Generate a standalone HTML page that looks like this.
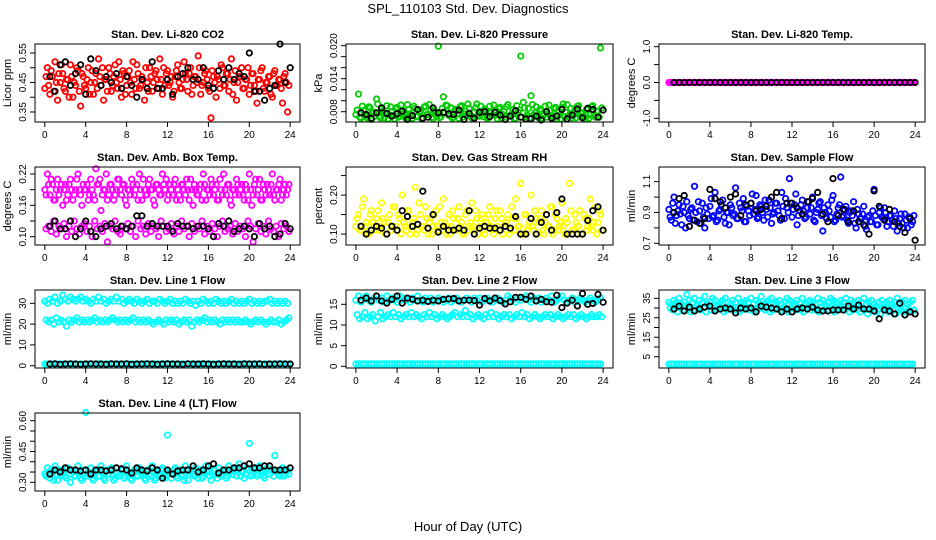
<!DOCTYPE html>
<html><head><meta charset="utf-8"><style>
body{margin:0;background:#fff;}
svg{display:block;font-family:"Liberation Sans",sans-serif;}
</style></head><body>
<svg id="c" width="936" height="540" viewBox="0 0 936 540">
<text x="468" y="13" text-anchor="middle" font-size="13">SPL_110103  Std. Dev. Diagnostics</text>
<text x="468" y="531" text-anchor="middle" font-size="13">Hour of Day (UTC)</text>
</svg>
<script>
const hours=[0,0.25,0.5,0.75,1,1.25,1.5,1.75,2,2.25,2.5,2.75,3,3.25,3.5,3.75,4,4.25,4.5,4.75,5,5.25,5.5,5.75,6,6.25,6.5,6.75,7,7.25,7.5,7.75,8,8.25,8.5,8.75,9,9.25,9.5,9.75,10,10.25,10.5,10.75,11,11.25,11.5,11.75,12,12.25,12.5,12.75,13,13.25,13.5,13.75,14,14.25,14.5,14.75,15,15.25,15.5,15.75,16,16.25,16.5,16.75,17,17.25,17.5,17.75,18,18.25,18.5,18.75,19,19.25,19.5,19.75,20,20.25,20.5,20.75,21,21.25,21.5,21.75,22,22.25,22.5,22.75,23,23.25,23.5,23.75];
const hoursB=[0.125,0.375,0.625,0.875,1.125,1.375,1.625,1.875,2.125,2.375,2.625,2.875,3.125,3.375,3.625,3.875,4.125,4.375,4.625,4.875,5.125,5.375,5.625,5.875,6.125,6.375,6.625,6.875,7.125,7.375,7.625,7.875,8.125,8.375,8.625,8.875,9.125,9.375,9.625,9.875,10.125,10.375,10.625,10.875,11.125,11.375,11.625,11.875,12.125,12.375,12.625,12.875,13.125,13.375,13.625,13.875,14.125,14.375,14.625,14.875,15.125,15.375,15.625,15.875,16.125,16.375,16.625,16.875,17.125,17.375,17.625,17.875,18.125,18.375,18.625,18.875,19.125,19.375,19.625,19.875,20.125,20.375,20.625,20.875,21.125,21.375,21.625,21.875,22.125,22.375,22.625,22.875,23.125,23.375,23.625,23.875];
const blackHours=[0.5,1,1.5,2,2.5,3,3.5,4,4.5,5,5.5,6,6.5,7,7.5,8,8.5,9,9.5,10,10.5,11,11.5,12,12.5,13,13.5,14,14.5,15,15.5,16,16.5,17,17.5,18,18.5,19,19.5,20,20.5,21,21.5,22,22.5,23,23.5,24];
const xTicks=[0,4,8,12,16,20,24];

const co2A=[0.43,0.50,0.41,0.47,0.52,0.39,0.45,0.48,0.42,0.46,0.51,0.40,0.44,0.49,0.37,0.47,0.43,0.50,0.45,0.41,0.48,0.53,0.44,0.39,0.46,0.50,0.42,0.47,0.45,0.52,0.40,0.48,0.44,0.49,0.41,0.46,0.51,0.43,0.47,0.39,0.45,0.50,0.42,0.48,0.46,0.53,0.41,0.44,0.49,0.45,0.40,0.47,0.51,0.43,0.46,0.48,0.42,0.50,0.44,0.47,0.54,0.41,0.45,0.49,0.43,0.33,0.47,0.40,0.46,0.51,0.44,0.48,0.42,0.53,0.45,0.39,0.47,0.50,0.43,0.46,0.41,0.48,0.44,0.38,0.46,0.50,0.42,0.45,0.47,0.40,0.49,0.44,0.46,0.38,0.48,0.35];
const co2B=[0.47,0.44,0.49,0.42,0.45,0.48,0.51,0.43,0.46,0.40,0.47,0.45,0.50,0.42,0.48,0.44,0.46,0.41,0.49,0.45,0.43,0.47,0.50,0.46,0.42,0.48,0.44,0.51,0.43,0.46,0.49,0.41,0.47,0.45,0.52,0.43,0.48,0.44,0.46,0.50,0.42,0.47,0.45,0.49,0.43,0.46,0.50,0.48,0.44,0.47,0.42,0.49,0.45,0.43,0.52,0.46,0.48,0.41,0.47,0.45,0.50,0.44,0.48,0.46,0.42,0.49,0.45,0.47,0.43,0.50,0.44,0.48,0.46,0.41,0.49,0.45,0.47,0.43,0.46,0.50,0.44,0.48,0.42,0.46,0.49,0.43,0.45,0.47,0.41,0.48,0.44,0.46,0.43,0.47,0.45,0.44];
const co2Black=[0.47,0.42,0.51,0.52,0.44,0.48,0.51,0.41,0.53,0.49,0.44,0.47,0.45,0.48,0.43,0.47,0.44,0.40,0.46,0.43,0.52,0.43,0.43,0.46,0.41,0.47,0.48,0.50,0.46,0.46,0.50,0.44,0.43,0.49,0.46,0.50,0.46,0.48,0.47,0.55,0.42,0.42,0.39,0.43,0.44,0.58,0.45,0.50];

const presA=[0.0075,0.0112,0.0068,0.0082,0.0071,0.0089,0.0066,0.0079,0.0103,0.0072,0.0085,0.0069,0.0091,0.0074,0.0080,0.0067,0.0088,0.0073,0.0083,0.0070,0.0093,0.0076,0.0068,0.0086,0.0072,0.0081,0.0069,0.0090,0.0075,0.0084,0.0067,0.0078,0.0199,0.0071,0.0107,0.0092,0.0074,0.0087,0.0070,0.0082,0.0068,0.0091,0.0076,0.0073,0.0086,0.0069,0.0080,0.0094,0.0072,0.0077,0.0085,0.0068,0.0090,0.0074,0.0081,0.0067,0.0088,0.0075,0.0070,0.0093,0.0073,0.0084,0.0068,0.0079,0.0181,0.0097,0.0071,0.0086,0.0109,0.0074,0.0089,0.0069,0.0082,0.0076,0.0070,0.0092,0.0073,0.0085,0.0067,0.0080,0.0088,0.0071,0.0093,0.0075,0.0069,0.0083,0.0090,0.0072,0.0078,0.0067,0.0086,0.0074,0.0091,0.0070,0.0081,0.0196];
const presB=[0.0083,0.0070,0.0090,0.0074,0.0068,0.0087,0.0079,0.0072,0.0094,0.0069,0.0081,0.0076,0.0067,0.0089,0.0073,0.0085,0.0070,0.0092,0.0077,0.0068,0.0084,0.0074,0.0090,0.0071,0.0080,0.0067,0.0088,0.0075,0.0093,0.0070,0.0082,0.0073,0.0069,0.0086,0.0078,0.0091,0.0072,0.0068,0.0084,0.0076,0.0089,0.0070,0.0081,0.0094,0.0073,0.0067,0.0087,0.0075,0.0090,0.0071,0.0083,0.0069,0.0078,0.0092,0.0074,0.0086,0.0068,0.0080,0.0089,0.0072,0.0076,0.0067,0.0091,0.0083,0.0070,0.0087,0.0074,0.0069,0.0093,0.0078,0.0072,0.0085,0.0068,0.0090,0.0076,0.0082,0.0070,0.0088,0.0073,0.0067,0.0094,0.0079,0.0071,0.0086,0.0075,0.0069,0.0091,0.0077,0.0072,0.0084,0.0068,0.0089,0.0074,0.0081,0.0070,0.0087];
const presBlack=[0.0078,0.0075,0.0068,0.0078,0.0087,0.0077,0.0072,0.0076,0.0081,0.0066,0.0073,0.0084,0.0068,0.0070,0.0087,0.0078,0.0079,0.0076,0.0075,0.0083,0.0066,0.0077,0.0068,0.0079,0.0080,0.0071,0.0079,0.0074,0.0066,0.0072,0.0082,0.0070,0.0067,0.0067,0.0072,0.0065,0.0080,0.0068,0.0072,0.0084,0.0067,0.0074,0.0085,0.0069,0.0086,0.0084,0.0070,0.0083];

const tempA=[0,0,0,0,0,0,0,0,0,0,0,0,0,0,0,0,0,0,0,0,0,0,0,0,0,0,0,0,0,0,0,0,0,0,0,0,0,0,0,0,0,0,0,0,0,0,0,0,0,0,0,0,0,0,0,0,0,0,0,0,0,0,0,0,0,0,0,0,0,0,0,0,0,0,0,0,0,0,0,0,0,0,0,0,0,0,0,0,0,0,0,0,0,0,0,0];
const tempBlack=[0,0,0,0,0,0,0,0,0,0,0,0,0,0,0,0,0,0,0,0,0,0,0,0,0,0,0,0,0,0,0,0,0,0,0,0,0,0,0,0,0,0,0,0,0,0,0,0];

const ambA=[0.19,0.22,0.18,0.20,0.17,0.21,0.19,0.16,0.20,0.18,0.21,0.17,0.19,0.22,0.18,0.20,0.19,0.17,0.21,0.18,0.23,0.20,0.15,0.19,0.22,0.18,0.20,0.17,0.19,0.21,0.18,0.20,0.16,0.19,0.21,0.18,0.20,0.22,0.17,0.19,0.18,0.21,0.19,0.16,0.20,0.18,0.22,0.19,0.17,0.20,0.18,0.21,0.19,0.17,0.20,0.18,0.19,0.21,0.16,0.19,0.18,0.20,0.22,0.17,0.19,0.21,0.18,0.20,0.17,0.19,0.22,0.18,0.20,0.16,0.19,0.21,0.18,0.20,0.17,0.19,0.22,0.16,0.20,0.18,0.21,0.17,0.19,0.20,0.18,0.22,0.17,0.19,0.21,0.18,0.20,0.19];
const ambB=[0.115,0.12,0.11,0.13,0.105,0.12,0.115,0.125,0.10,0.12,0.11,0.13,0.115,0.105,0.12,0.125,0.11,0.12,0.10,0.13,0.115,0.12,0.11,0.125,0.09,0.12,0.115,0.13,0.11,0.105,0.12,0.115,0.125,0.11,0.12,0.10,0.13,0.115,0.12,0.105,0.125,0.11,0.12,0.115,0.10,0.13,0.12,0.11,0.115,0.125,0.105,0.12,0.11,0.13,0.115,0.12,0.10,0.125,0.11,0.12,0.115,0.13,0.105,0.12,0.11,0.125,0.115,0.10,0.12,0.13,0.11,0.115,0.12,0.105,0.125,0.11,0.12,0.115,0.10,0.13,0.12,0.09,0.115,0.125,0.11,0.12,0.105,0.13,0.115,0.11,0.12,0.10,0.125,0.115,0.12,0.11];
const ambC=[0.18,0.20,0.21,0.17,0.19,0.18,0.20,0.19,0.17,0.20,0.19,0.18,0.21,0.19,0.16,0.19,0.20,0.18,0.19,0.17,0.20,0.21,0.18,0.19,0.17,0.20,0.19,0.18,0.21,0.19,0.20,0.17,0.19,0.18,0.20,0.19,0.17,0.19,0.21,0.18,0.20,0.19,0.17,0.20,0.19,0.18,0.20,0.21,0.18,0.19,0.20,0.17,0.18,0.20,0.19,0.21,0.17,0.19,0.20,0.18,0.19,0.17,0.20,0.19,0.18,0.20,0.19,0.17,0.21,0.18,0.19,0.20,0.17,0.19,0.18,0.20,0.19,0.18,0.20,0.17,0.19,0.18,0.21,0.19,0.17,0.20,0.18,0.19,0.20,0.18,0.19,0.20,0.17,0.19,0.18,0.20];
const ambBlack=[0.12,0.13,0.115,0.115,0.13,0.10,0.115,0.13,0.11,0.10,0.115,0.12,0.125,0.115,0.12,0.115,0.12,0.14,0.14,0.12,0.125,0.12,0.12,0.12,0.11,0.125,0.12,0.12,0.115,0.12,0.12,0.115,0.10,0.125,0.12,0.13,0.11,0.115,0.12,0.115,0.10,0.125,0.115,0.12,0.10,0.105,0.125,0.115];

const rhA=[0.12,0.15,0.11,0.19,0.13,0.10,0.16,0.12,0.14,0.11,0.18,0.13,0.10,0.15,0.12,0.17,0.11,0.14,0.20,0.12,0.16,0.10,0.13,0.22,0.11,0.15,0.12,0.17,0.10,0.14,0.12,0.16,0.11,0.13,0.19,0.10,0.15,0.12,0.14,0.11,0.17,0.13,0.10,0.16,0.12,0.18,0.11,0.14,0.12,0.15,0.10,0.13,0.17,0.11,0.14,0.12,0.16,0.10,0.13,0.15,0.11,0.14,0.19,0.12,0.23,0.10,0.15,0.12,0.20,0.11,0.14,0.13,0.16,0.10,0.15,0.12,0.17,0.11,0.14,0.12,0.18,0.10,0.13,0.23,0.11,0.15,0.12,0.16,0.10,0.14,0.12,0.19,0.11,0.17,0.13,0.15];
const rhB=[0.14,0.11,0.17,0.12,0.10,0.15,0.13,0.11,0.16,0.12,0.14,0.10,0.13,0.11,0.17,0.12,0.15,0.10,0.13,0.11,0.16,0.12,0.14,0.10,0.18,0.12,0.11,0.14,0.13,0.10,0.15,0.12,0.17,0.11,0.13,0.12,0.10,0.16,0.11,0.14,0.12,0.10,0.15,0.11,0.13,0.12,0.16,0.10,0.14,0.11,0.13,0.15,0.12,0.10,0.16,0.11,0.14,0.12,0.13,0.10,0.17,0.11,0.14,0.12,0.10,0.15,0.11,0.13,0.12,0.16,0.10,0.14,0.11,0.13,0.12,0.17,0.10,0.15,0.11,0.13,0.12,0.14,0.10,0.16,0.11,0.13,0.12,0.10,0.15,0.11,0.14,0.12,0.13,0.10,0.16,0.11];
const rhBlack=[0.12,0.10,0.11,0.12,0.115,0.10,0.12,0.11,0.16,0.145,0.12,0.125,0.21,0.115,0.15,0.105,0.12,0.11,0.11,0.115,0.11,0.16,0.10,0.115,0.12,0.115,0.115,0.11,0.12,0.115,0.145,0.10,0.10,0.14,0.10,0.13,0.15,0.11,0.155,0.19,0.10,0.10,0.10,0.10,0.135,0.16,0.17,0.11];

const flowA=[0.92,0.85,1.00,0.88,0.95,0.82,0.90,0.97,0.86,0.93,1.07,0.84,0.91,0.96,0.80,0.89,0.94,0.87,1.03,0.85,0.92,0.98,0.83,0.90,0.95,0.88,1.06,0.86,0.93,0.99,0.84,0.91,0.96,0.89,1.01,0.87,0.94,0.85,0.92,0.98,0.83,0.90,0.96,0.88,1.03,0.86,0.93,1.12,0.87,0.95,0.82,0.91,0.98,0.86,0.93,0.89,1.00,0.84,0.92,0.97,0.78,0.90,0.95,0.87,1.01,0.85,0.93,1.13,0.88,0.94,0.83,0.91,0.97,0.80,0.89,0.86,0.94,0.79,0.88,0.84,1.05,0.82,0.90,0.87,0.93,0.81,0.88,0.85,0.91,0.78,0.86,0.83,0.89,0.80,0.87,0.84];
const flowB=[0.87,0.96,0.83,0.91,0.89,0.94,0.80,0.88,0.92,0.85,0.90,0.97,0.83,0.87,0.93,0.86,0.99,0.88,0.84,0.91,0.95,0.87,0.90,0.82,0.93,0.89,0.86,0.96,0.91,0.84,0.94,0.88,1.02,0.92,0.86,0.95,0.90,0.98,0.87,0.93,0.89,0.96,0.91,0.85,0.94,0.99,0.90,0.96,0.92,1.02,0.88,0.95,0.91,0.87,0.97,0.93,0.85,0.90,0.96,0.88,0.93,0.86,0.91,0.98,0.84,0.89,0.95,0.87,0.92,0.85,0.90,0.88,0.83,0.92,0.86,0.89,0.81,0.87,0.84,0.91,0.88,0.82,0.93,0.86,0.90,0.84,0.88,0.81,0.86,0.83,0.89,0.80,0.85,0.87,0.82,0.88];
const flowBlack=[0.90,0.99,1.01,0.81,0.85,0.83,0.86,1.05,0.99,0.97,0.93,1.00,1.02,0.88,0.95,0.96,0.91,0.92,0.94,1.00,1.03,0.86,0.96,0.96,0.93,0.89,0.97,0.99,1.03,0.89,0.84,1.12,0.88,0.92,0.84,0.91,0.84,0.82,0.76,1.04,0.94,0.85,0.92,0.84,0.81,0.77,0.86,0.72];

const l1A=[31,30,32,31,33,30,31,34,32,31,33,32,31,32,33,31,32,31,30,32,31,33,31,32,30,31,32,31,33,31,32,30,31,32,31,30,32,31,30,31,32,30,31,31,30,32,31,30,31,32,30,31,30,31,30,32,31,30,31,29,31,30,32,31,30,31,30,32,31,30,31,30,31,32,30,31,30,31,30,31,32,30,31,30,31,30,31,31,32,30,31,30,31,30,31,30];
const l1B=[22,21,22,20,23,21,22,21,19,22,21,22,23,21,22,21,22,21,22,23,21,22,21,22,21,22,23,22,21,22,21,22,21,22,23,21,22,21,22,21,22,21,20,21,22,21,20,22,21,22,21,22,20,21,22,21,22,19,21,22,21,22,23,21,22,21,22,21,20,22,21,22,21,22,21,22,21,21,22,21,20,21,22,21,22,21,20,21,22,21,21,22,20,21,22,23];
const l1C=[0.8,0.8,0.8,0.8,0.8,0.8,0.8,0.8,0.8,0.8,0.8,0.8,0.8,0.8,0.8,0.8,0.8,0.8,0.8,0.8,0.8,0.8,0.8,0.8,0.8,0.8,0.8,0.8,0.8,0.8,0.8,0.8,0.8,0.8,0.8,0.8,0.8,0.8,0.8,0.8,0.8,0.8,0.8,0.8,0.8,0.8,0.8,0.8,0.8,0.8,0.8,0.8,0.8,0.8,0.8,0.8,0.8,0.8,0.8,0.8,0.8,0.8,0.8,0.8,0.8,0.8,0.8,0.8,0.8,0.8,0.8,0.8,0.8,0.8,0.8,0.8,0.8,0.8,0.8,0.8,0.8,0.8,0.8,0.8,0.8,0.8,0.8,0.8,0.8,0.8,0.8,0.8,0.8,0.8,0.8,0.8];
const l1Black=[0.8,0.9,0.7,0.8,0.9,0.8,0.7,0.8,0.9,0.8,0.8,0.7,0.9,0.8,0.8,0.9,0.7,0.8,0.8,0.9,0.8,0.7,0.8,0.9,0.8,0.8,0.7,0.9,0.8,0.8,0.9,0.8,0.7,0.8,0.9,0.8,0.8,0.7,0.9,0.8,0.8,0.9,0.7,0.8,0.8,0.9,0.8,0.8];

const l2A=[16,17,15.5,16.5,17,16,15.5,16.5,17,16,16.5,15.5,17,16,16.5,16,15.5,17,16,16.5,16,15.5,16.5,16,17,16,15.5,16.5,16,16.5,15.5,16,16.5,16,15.5,16,16.5,15.5,16,16.5,16,15.5,16,16.5,16,15.5,16.5,16,16.5,15.5,16,16.5,16,15.5,16,16.5,16,15.5,16,17,16.5,16,15.5,16.5,16,16.5,17,16,15.5,16.5,16,16.5,15.5,16,16.5,16,17,15.5,16,16.5,17,16,15.5,16,16.5,15.5,16,16.5,16,15.5,16,16.5,16,15.5,16,16.5];
const l2B=[12.5,11.5,12,13,11.5,12,12.5,11,12,13,11.5,12,12.5,12,13,12,12.5,11.5,12,12.5,12,13,12,12.5,12,11.5,12.5,12,13,12,12.5,11.5,12,12.5,12,11.5,12,12.5,13,12,12.5,12,13.5,12,12.5,11.5,12,12.5,12,11.5,12.5,12,13,12,12.5,11.5,12,12.5,12,12.5,11.5,12,12.5,12,13,12,12.5,11.5,12,12.5,12,11.5,12,12.5,12,12.5,11.5,12,12.5,12,11.5,12,12.5,12,12.5,11.5,12,12.5,12,11.5,12,12.5,12,12,12.5,12];
const l2C=[0.6,0.6,0.6,0.6,0.6,0.6,0.6,0.6,0.6,0.6,0.6,0.6,0.6,0.6,0.6,0.6,0.6,0.6,0.6,0.6,0.6,0.6,0.6,0.6,0.6,0.6,0.6,0.6,0.6,0.6,0.6,0.6,0.6,0.6,0.6,0.6,0.6,0.6,0.6,0.6,0.6,0.6,0.6,0.6,0.6,0.6,0.6,0.6,0.6,0.6,0.6,0.6,0.6,0.6,0.6,0.6,0.6,0.6,0.6,0.6,0.6,0.6,0.6,0.6,0.6,0.6,0.6,0.6,0.6,0.6,0.6,0.6,0.6,0.6,0.6,0.6,0.6,0.6,0.6,0.6,0.6,0.6,0.6,0.6,0.6,0.6,0.6,0.6,0.6,0.6,0.6,0.6,0.6,0.6,0.6,0.6];
const l2Black=[16,16.5,15.8,17,15.8,15.3,16.2,17,15.3,16.5,16.2,15.8,16,15.7,16,15.8,16.2,16.3,16.4,15.8,16,16,15.9,14.8,16.4,15.8,16.5,15.9,15.1,15.6,16.7,16.7,16.2,17,15.8,16.2,15.6,15.5,17.2,14.2,15.3,16,14.6,17.6,15,15.2,17.4,15.5];

const l3A=[33,32,34,33,35,32,33,37,34,33,35,32,34,33,36,32,33,35,34,32,33,34,35,33,32,34,33,35,32,33,34,33,35,32,34,33,36,32,33,34,35,32,33,34,32,33,35,34,33,32,34,33,35,32,33,34,33,32,35,33,34,32,33,35,34,33,32,34,33,35,32,34,33,32,34,33,35,32,33,34,32,31,33,34,32,33,34,32,33,35,32,33,34,32,33,34];
const l3B=[30,29,31,28,30,29,31,30,28,29,31,30,29,30,28,31,29,30,29,31,30,28,29,30,31,29,30,28,29,31,30,29,30,28,29,31,30,29,30,28,29,31,30,29,30,29,28,30,31,29,30,29,28,30,31,29,30,29,28,30,29,31,29,30,28,29,30,31,29,30,28,29,30,29,28,30,29,27,29,30,28,29,27,30,29,28,30,29,27,30,29,28,30,29,28,29];
const l3C=[1.2,1.2,1.2,1.2,1.2,1.2,1.2,1.2,1.2,1.2,1.2,1.2,1.2,1.2,1.2,1.2,1.2,1.2,1.2,1.2,1.2,1.2,1.2,1.2,1.2,1.2,1.2,1.2,1.2,1.2,1.2,1.2,1.2,1.2,1.2,1.2,1.2,1.2,1.2,1.2,1.2,1.2,1.2,1.2,1.2,1.2,1.2,1.2,1.2,1.2,1.2,1.2,1.2,1.2,1.2,1.2,1.2,1.2,1.2,1.2,1.2,1.2,1.2,1.2,1.2,1.2,1.2,1.2,1.2,1.2,1.2,1.2,1.2,1.2,1.2,1.2,1.2,1.2,1.2,1.2,1.2,1.2,1.2,1.2,1.2,1.2,1.2,1.2,1.2,1.2,1.2,1.2,1.2,1.2,1.2,1.2];
const l3Black=[29.5,31,28.5,30.5,28.5,29.5,30.5,31,28.5,29.5,30,29.5,27.5,30,29.5,30,28,31,30.5,30,29.5,28,29.5,28,29.5,30,29.5,30.5,29,28.5,28.5,29,29,29,31,29.5,31.5,29.5,29.5,28.5,24.5,29,28.5,27,32.5,26.5,28,27];

const l4A=[0.34,0.37,0.32,0.35,0.38,0.31,0.34,0.36,0.33,0.37,0.30,0.35,0.33,0.38,0.32,0.36,0.64,0.34,0.37,0.31,0.35,0.33,0.38,0.32,0.36,0.34,0.37,0.31,0.35,0.33,0.36,0.32,0.38,0.34,0.31,0.36,0.33,0.37,0.35,0.32,0.36,0.34,0.38,0.31,0.35,0.33,0.37,0.32,0.53,0.35,0.34,0.37,0.32,0.36,0.33,0.38,0.31,0.35,0.34,0.37,0.32,0.36,0.33,0.38,0.35,0.31,0.36,0.34,0.37,0.33,0.35,0.32,0.38,0.34,0.36,0.33,0.39,0.35,0.32,0.37,0.49,0.34,0.36,0.33,0.38,0.35,0.32,0.37,0.34,0.36,0.43,0.35,0.33,0.37,0.34,0.36];
const l4B=[0.33,0.35,0.36,0.31,0.34,0.36,0.33,0.35,0.32,0.34,0.36,0.33,0.35,0.34,0.31,0.36,0.33,0.35,0.32,0.34,0.36,0.33,0.35,0.31,0.34,0.36,0.33,0.32,0.35,0.34,0.36,0.33,0.35,0.32,0.34,0.36,0.33,0.35,0.34,0.31,0.36,0.33,0.35,0.32,0.34,0.36,0.33,0.35,0.34,0.32,0.36,0.33,0.35,0.34,0.31,0.36,0.34,0.35,0.33,0.36,0.34,0.32,0.35,0.36,0.33,0.34,0.36,0.32,0.35,0.34,0.36,0.33,0.35,0.34,0.37,0.36,0.33,0.35,0.34,0.36,0.33,0.35,0.37,0.34,0.36,0.33,0.35,0.34,0.36,0.33,0.35,0.34,0.36,0.33,0.35,0.34];
const l4Black=[0.34,0.36,0.35,0.37,0.36,0.36,0.355,0.36,0.34,0.36,0.36,0.355,0.36,0.37,0.365,0.36,0.345,0.37,0.36,0.355,0.37,0.36,0.32,0.36,0.34,0.355,0.36,0.36,0.38,0.35,0.36,0.38,0.39,0.345,0.36,0.36,0.37,0.37,0.38,0.39,0.37,0.37,0.38,0.38,0.36,0.36,0.36,0.37];

const co2Ticks=[0.35,0.40,0.45,0.50,0.55], co2Labels=["0.35","","0.45","","0.55"];
const presTicks=[0.008,0.010,0.012,0.014,0.016,0.018,0.020], presLabels=["0.008","","","0.014","","","0.020"];
const tempTicks=[-1,-0.5,0,0.5,1], tempLabels=["-1.0","","0.0","","1.0"];
const ambTicks=[0.10,0.13,0.16,0.19,0.22], ambLabels=["0.10","","0.16","","0.22"];
const rhTicks=[0.10,0.15,0.20,0.25], rhLabels=["0.10","","0.20",""];
const flowTicks=[0.7,0.8,0.9,1.0,1.1], flowLabels=["0.7","","0.9","","1.1"];
const l1Ticks=[0,10,20,30], l1Labels=["0","10","20","30"];
const l2Ticks=[0,5,10,15], l2Labels=["0","5","10","15"];
const l3Ticks=[5,10,15,20,25,30,35], l3Labels=["5","","15","","25","","35"];
const l4Ticks=[0.30,0.35,0.40,0.45,0.50,0.55,0.60], l4Labels=["0.30","","","0.45","","","0.60"];

const NS="http://www.w3.org/2000/svg";
const svg=document.getElementById('c');
function mk(tag,attrs,parent){const e=document.createElementNS(NS,tag);for(const k in attrs)e.setAttribute(k,attrs[k]);(parent||svg).appendChild(e);return e;}
const colL=[35,346,659], colW=[265,267,266], rowT=[44,167,290,413], H=78;
function panel(col,row,name,title,ylab,ymin,ymax,ticks,labels,series,blackVals){
  const L=colL[col],W=colW[col],T=rowT[row];
  const g=mk('g',{});
  
  
  const xs=v=>L+(v+0.96)/25.92*W;
  const ys=v=>T+H-(v-ymin)/(ymax-ymin)*H;
  const t=mk('text',{x:L+W/2,y:T-6,'text-anchor':'middle','font-size':11,'font-weight':'bold'},g);
  t.textContent=title;
  
  
  const yl=mk('text',{x:0,y:0,'text-anchor':'middle','font-size':11,transform:`translate(${L-24},${T+H/2}) rotate(-90)`},g);
  yl.textContent=ylab;
  
  
  const pts=mk('g',{fill:'none','stroke-width':1.8},g);
  
  
  series.forEach(s=>{
    const hs=s.hrs||hours;
    s.vals.forEach((v,i)=>{
      if(hs[i]===undefined)return;
      const c=mk('circle',{cx:xs(hs[i]).toFixed(1),cy:ys(v).toFixed(1),r:2.7,stroke:s.color},pts);
      
      
    });
  });
  blackVals.forEach((v,i)=>{
    if(blackHours[i]===undefined)return;
    const c=mk('circle',{cx:xs(blackHours[i]).toFixed(1),cy:ys(v).toFixed(1),r:2.7,stroke:'#000'},pts);
    
    
  });
  const box=mk('rect',{x:L,y:T,width:W,height:H,fill:'none',stroke:'#000','stroke-width':1},g);
  
  
  const ax=mk('g',{stroke:'#000','stroke-width':1},g);
  
  
  mk('line',{x1:xs(0),x2:xs(24),y1:T+H,y2:T+H},ax);
  xTicks.forEach(v=>{
    const x=xs(v);
    mk('line',{x1:x,x2:x,y1:T+H,y2:T+H+5},ax);
    const tx=mk('text',{x:x,y:T+H+16,'text-anchor':'middle','font-size':10,stroke:'none'},ax);
    tx.textContent=v;
    
    
  });
  mk('line',{x1:L,x2:L,y1:ys(ticks[0]),y2:ys(ticks[ticks.length-1])},ax);
  ticks.forEach((v,i)=>{
    const y=ys(v);
    mk('line',{x1:L-5,x2:L,y1:y,y2:y},ax);
    if(labels[i]){
      const ty=mk('text',{x:0,y:0,'text-anchor':'middle','font-size':10,stroke:'none',transform:`translate(${L-9},${y}) rotate(-90)`},ax);
      ty.textContent=labels[i];
      
      
    }
  });
}
const R='#ff0000',G='#00cd00',M='#ff00ff',Y='#ffff00',B='#0000ff',C='#00ffff';
panel(0,0,'co2','Stan. Dev. Li-820 CO2','Licor ppm',0.316,0.5805,co2Ticks,co2Labels,[{vals:co2A,color:R},{vals:co2B,color:R,hrs:hoursB}],co2Black);
panel(1,0,'pressure','Stan. Dev. Li-820 Pressure','kPa',0.00613,0.0203,presTicks,presLabels,[{vals:presA,color:G},{vals:presB,color:G,hrs:hoursB}],presBlack);
panel(2,0,'li820-temp','Stan. Dev. Li-820 Temp.','degrees C',-1.103,1.075,tempTicks,tempLabels,[{vals:tempA,color:M},{vals:tempA,color:M,hrs:hoursB}],tempBlack);
panel(0,1,'amb-box-temp','Stan. Dev. Amb. Box Temp.','degrees C',0.084,0.2334,ambTicks,ambLabels,[{vals:ambA,color:M},{vals:ambC,color:M,hrs:hoursB},{vals:ambB,color:M,hrs:hoursB}],ambBlack);
panel(1,1,'gas-stream-rh','Stan. Dev. Gas Stream RH','percent',0.072,0.272,rhTicks,rhLabels,[{vals:rhA,color:Y},{vals:rhB,color:Y,hrs:hoursB}],rhBlack);
panel(2,1,'sample-flow','Stan. Dev. Sample Flow','ml/min',0.689,1.195,flowTicks,flowLabels,[{vals:flowA,color:B},{vals:flowB,color:B,hrs:hoursB}],flowBlack);
panel(0,2,'line1-flow','Stan. Dev. Line 1 Flow','ml/min',-1.1,36.4,l1Ticks,l1Labels,[{vals:l1A,color:C},{vals:l1B,color:C,hrs:hoursB},{vals:l1C,color:C}],l1Black);
panel(1,2,'line2-flow','Stan. Dev. Line 2 Flow','ml/min',-0.4,18.46,l2Ticks,l2Labels,[{vals:l2A,color:C},{vals:l2B,color:C,hrs:hoursB},{vals:l2C,color:C}],l2Black);
panel(2,2,'line3-flow','Stan. Dev. Line 3 Flow','ml/min',-0.8,39.27,l3Ticks,l3Labels,[{vals:l3A,color:C},{vals:l3B,color:C,hrs:hoursB},{vals:l3C,color:C}],l3Black);
panel(0,3,'line4-flow','Stan. Dev. Line 4 (LT) Flow','ml/min',0.2576,0.6375,l4Ticks,l4Labels,[{vals:l4A,color:C},{vals:l4B,color:C,hrs:hoursB}],l4Black);
</script>
</body></html>
